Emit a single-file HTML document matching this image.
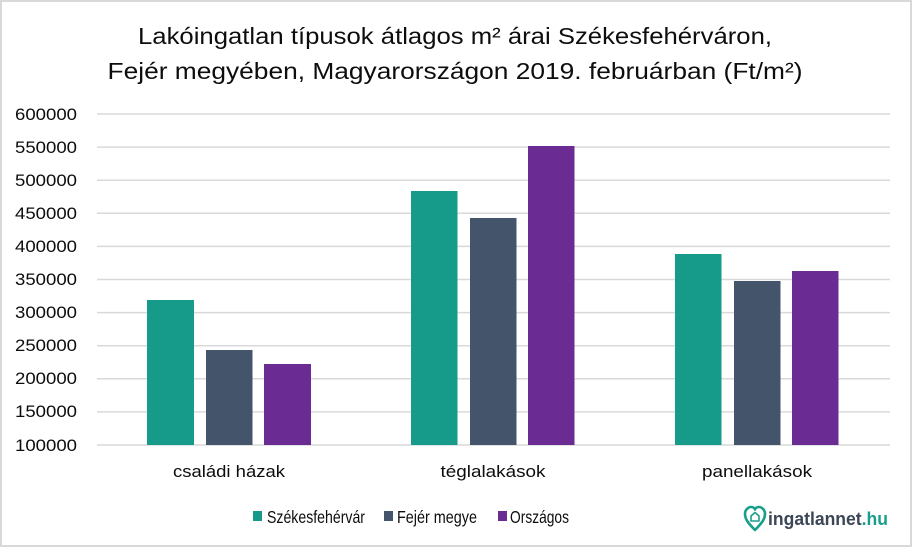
<!DOCTYPE html>
<html><head><meta charset="utf-8"><style>
html,body{margin:0;padding:0;background:#fff;}
svg{display:block;}
text{font-family:"Liberation Sans",Arial,sans-serif;fill:#0d0d0d;}
</style></head><body>
<svg width="913" height="549" viewBox="0 0 913 549" xmlns="http://www.w3.org/2000/svg">
<rect x="0" y="0" width="913" height="549" fill="#fff"/>
<rect x="1" y="1" width="910" height="545" fill="none" stroke="#d9d9d9" stroke-width="2"/>
<!-- title -->
<text x="455" y="44" font-size="23" text-anchor="middle" textLength="634" lengthAdjust="spacingAndGlyphs">Lakóingatlan típusok átlagos m² árai Székesfehérváron,</text>
<text x="455" y="79" font-size="23" text-anchor="middle" textLength="695" lengthAdjust="spacingAndGlyphs">Fejér megyében, Magyarországon 2019. februárban (Ft/m²)</text>
<!-- gridlines -->
<g stroke="#d9d9d9" stroke-width="1.5">
<line x1="97" x2="890" y1="114" y2="114"/>
<line x1="97" x2="890" y1="147.1" y2="147.1"/>
<line x1="97" x2="890" y1="180.2" y2="180.2"/>
<line x1="97" x2="890" y1="213.3" y2="213.3"/>
<line x1="97" x2="890" y1="246.4" y2="246.4"/>
<line x1="97" x2="890" y1="279.5" y2="279.5"/>
<line x1="97" x2="890" y1="312.6" y2="312.6"/>
<line x1="97" x2="890" y1="345.7" y2="345.7"/>
<line x1="97" x2="890" y1="378.8" y2="378.8"/>
<line x1="97" x2="890" y1="411.9" y2="411.9"/>
<line x1="97" x2="890" y1="445" y2="445"/>
</g>
<!-- y labels -->
<g font-size="16.5">
<text x="15" y="120" textLength="62" lengthAdjust="spacingAndGlyphs">600000</text>
<text x="15" y="153" textLength="62" lengthAdjust="spacingAndGlyphs">550000</text>
<text x="15" y="186" textLength="62" lengthAdjust="spacingAndGlyphs">500000</text>
<text x="15" y="219" textLength="62" lengthAdjust="spacingAndGlyphs">450000</text>
<text x="15" y="252" textLength="62" lengthAdjust="spacingAndGlyphs">400000</text>
<text x="15" y="285" textLength="62" lengthAdjust="spacingAndGlyphs">350000</text>
<text x="15" y="318" textLength="62" lengthAdjust="spacingAndGlyphs">300000</text>
<text x="15" y="351" textLength="62" lengthAdjust="spacingAndGlyphs">250000</text>
<text x="15" y="384" textLength="62" lengthAdjust="spacingAndGlyphs">200000</text>
<text x="15" y="417" textLength="62" lengthAdjust="spacingAndGlyphs">150000</text>
<text x="15" y="451" textLength="62" lengthAdjust="spacingAndGlyphs">100000</text>
</g>
<!-- bars -->
<g>
<rect x="147" y="300" width="47" height="145" fill="#169a8a"/>
<rect x="206" y="350" width="46.5" height="95" fill="#44546a"/>
<rect x="264" y="364" width="47" height="81" fill="#6a2c92"/>
<rect x="411" y="191" width="46.5" height="254" fill="#169a8a"/>
<rect x="470" y="218" width="46.5" height="227" fill="#44546a"/>
<rect x="528" y="146" width="46.5" height="299" fill="#6a2c92"/>
<rect x="675" y="254" width="46.5" height="191" fill="#169a8a"/>
<rect x="734" y="281" width="46.5" height="164" fill="#44546a"/>
<rect x="792" y="271" width="46.5" height="174" fill="#6a2c92"/>
</g>
<!-- category labels -->
<g font-size="17" text-anchor="middle">
<text x="229" y="477" textLength="112" lengthAdjust="spacingAndGlyphs">családi házak</text>
<text x="493" y="477" textLength="105" lengthAdjust="spacingAndGlyphs">téglalakások</text>
<text x="757" y="477" textLength="110" lengthAdjust="spacingAndGlyphs">panellakások</text>
</g>
<!-- legend -->
<rect x="253" y="511" width="9" height="10" fill="#169a8a"/>
<text x="267" y="523" font-size="17.5" textLength="98" lengthAdjust="spacingAndGlyphs">Székesfehérvár</text>
<rect x="384" y="511" width="9" height="10" fill="#44546a"/>
<text x="397" y="523" font-size="17.5" textLength="80" lengthAdjust="spacingAndGlyphs">Fejér megye</text>
<rect x="498" y="511" width="9" height="10" fill="#6a2c92"/>
<text x="510" y="523" font-size="17.5" textLength="59" lengthAdjust="spacingAndGlyphs">Országos</text>
<!-- logo -->
<g fill="none" stroke="#1a9e8c" stroke-width="2.6" stroke-linejoin="round">
<path d="M755 530 C748 523 745 519 745 514 C745 510 748 507 751 507 C753 507 754.5 508 755 509.5 C755.5 508 757 507 759 507 C762 507 765 510 765 514 C765 519 762 523 755 530 Z"/>
<path d="M751 521 L751 516 L755 512.5 L759 516 L759 521 Z" stroke-width="1.6"/>
</g>
<text x="768" y="525" font-size="18" font-weight="bold" style="fill:#3b4656" textLength="120" lengthAdjust="spacingAndGlyphs">ingatlannet<tspan style="fill:#1a9e8c">.hu</tspan></text>
</svg>
</body></html>
